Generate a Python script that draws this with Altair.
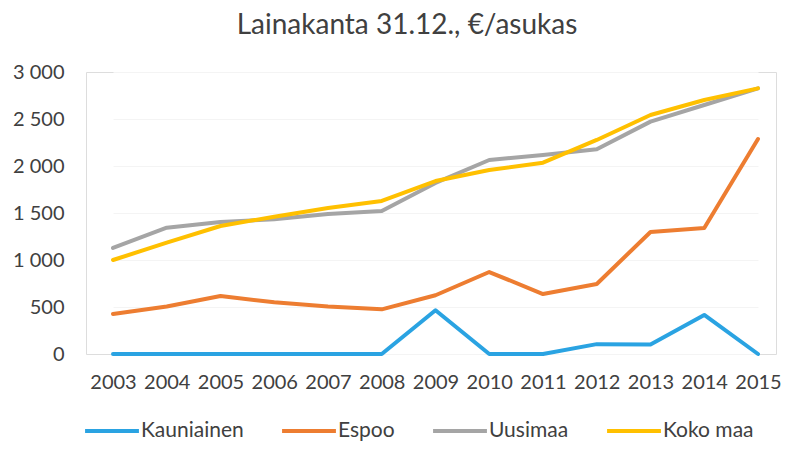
import altair as alt
import pandas as pd

years = [str(y) for y in range(2003, 2016)]
series_names = ["Kauniainen", "Espoo", "Uusimaa", "Koko maa"]
kauniainen = [0, 0, 0, 0, 0, 0, 465, 0, 0, 105, 100, 415, 0]
espoo = [425, 505, 617, 550, 505, 475, 625, 872, 638, 745, 1298, 1340, 2287]
uusimaa = [1128, 1344, 1404, 1433, 1489, 1521, 1820, 2064, 2117, 2178, 2472, 2649, 2826]
koko_maa = [1000, 1184, 1362, 1461, 1553, 1628, 1840, 1957, 2035, 2277, 2543, 2702, 2826]
colors = ["#2AA3E2", "#ED7D31", "#A5A5A5", "#FFC000"]

rows = []
for name, vals in zip(series_names, [kauniainen, espoo, uusimaa, koko_maa]):
    for y, v in zip(years, vals):
        rows.append({"year": y, "value": v, "series": name})
df = pd.DataFrame(rows)

FONT = "Lato"

x_enc = alt.X("year:O", scale=alt.Scale(range=[27, 672], padding=0),
              axis=alt.Axis(title=None, labelAngle=0, labelFontSize=20, labelColor="#404040",
                            labelFont=FONT, domain=False, ticks=False, labelPadding=18))
y_enc = alt.Y("value:Q", scale=alt.Scale(domain=[0, 3000], nice=False),
              axis=alt.Axis(title=None, values=[0, 500, 1000, 1500, 2000, 2500, 3000],
                            labelExpr="replace(format(datum.value, ','), ',', ' ')",
                            labelFontSize=20, labelColor="#404040", labelFont=FONT,
                            domain=False, ticks=False, labelPadding=22,
                            grid=True, gridColor="#f4f4f4", gridWidth=1))
color_enc = alt.Color("series:N",
                      scale=alt.Scale(domain=series_names, range=colors),
                      legend=alt.Legend(title=None, orient="none", direction="horizontal",
                                        legendX=-3, legendY=330, symbolType="stroke",
                                        symbolSize=2900, symbolStrokeWidth=4,
                                        labelFontSize=21, labelFont=FONT, labelColor="#404040",
                                        labelOffset=0, columnPadding=30, padding=0))

layers = []
for name in series_names:
    layers.append(
        alt.Chart(df).transform_filter(alt.datum.series == name)
        .mark_line(strokeWidth=4, strokeCap="round", strokeJoin="round")
        .encode(x=x_enc, y=y_enc, color=color_enc)
    )

chart = alt.layer(*layers).properties(
    width=690, height=282,
    autosize=alt.AutoSizeParams(type="none"),
    padding={"left": 78, "top": 64, "right": 8, "bottom": 87},
    title=alt.Title("Lainakanta 31.12., €/asukas", fontSize=28, font=FONT, fontWeight="normal",
                    color="#404040", anchor="middle", dx=-24, offset=22),
).configure_view(stroke=None).configure(background="white")

chart.save("out.html", embed_options={"renderer": "svg", "actions": False})
